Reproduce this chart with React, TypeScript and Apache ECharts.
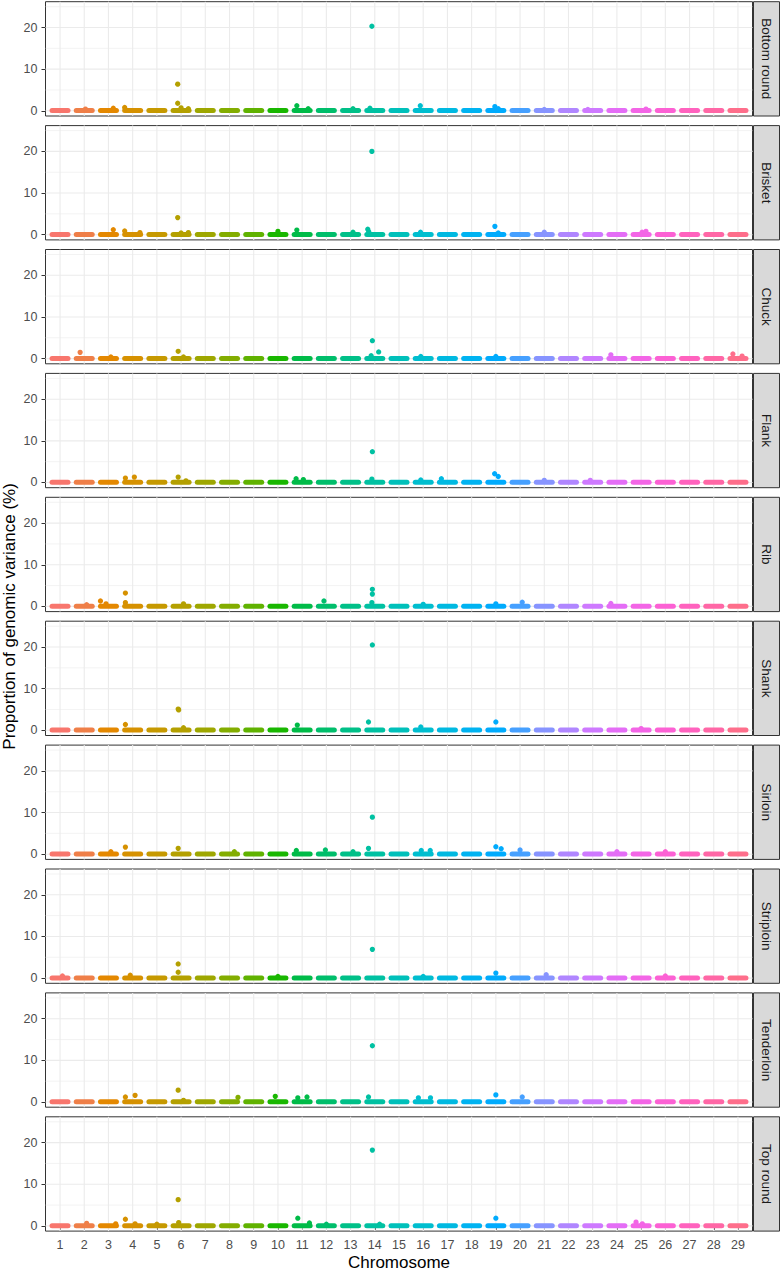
import React, { useEffect, useRef } from "react";
import * as echarts from "echarts";

// ---------------- data ----------------
const TISSUES = [
  "Bottom round", "Brisket", "Chuck", "Flank", "Rib",
  "Shank", "Sirloin", "Striploin", "Tenderloin", "Top round",
];
const CHROMOSOMES = [1, 2, 3, 4, 5, 6, 7, 8, 9, 10, 11, 12, 13, 14, 15, 16, 17, 18, 19, 20, 21, 22, 23, 24, 25, 26, 27, 28, 29];
const Y_TICKS = [0, 10, 20];
const Y_MINOR = [5, 15, 25];
// typical level of the dense band of windows near zero, per chromosome
const BASELINE_LEVEL = [0.05, 0.05, 0.05, 0.05, 0.05, 0.05, 0.05, 0.05, 0.05, 0.05, 0.05, 0.05, 0.05, 0.05, 0.05, 0.05, 0.05, 0.05, 0.05, 0.05, 0.05, 0.05, 0.05, 0.05, 0.05, 0.05, 0.05, 0.05, 0.05];

// points standing above the band: [chromosome, jitter offset, % variance]
const BOTTOM_ROUND = [
  [2, 0.05, 0.4], [3, 0.2, 0.6], [4, -0.33, 0.8], [6, -0.14, 6.4], [6, -0.14, 1.8], [6, 0.0, 0.7], [6, 0.3, 0.5],
  [11, -0.22, 1.2], [11, 0.25, 0.5], [13, 0.1, 0.5], [14, -0.12, 20.3], [14, -0.2, 0.6], [16, -0.12, 1.2],
  [19, -0.04, 1.0], [19, 0.1, 0.5], [21, 0.0, 0.3], [23, -0.2, 0.3], [25, 0.2, 0.4],
];
const BRISKET = [
  [3, 0.2, 1.2], [4, -0.33, 0.9], [4, 0.3, 0.5], [6, -0.14, 4.1], [6, 0.3, 0.5], [6, 0.0, 0.4], [10, 0.0, 0.8],
  [11, -0.22, 1.1], [13, 0.1, 0.6], [14, -0.12, 20.0], [14, -0.29, 1.3], [14, -0.25, 0.7], [16, -0.11, 0.6],
  [19, -0.04, 2.0], [19, 0.1, 0.4], [21, 0.0, 0.6], [25, 0.04, 0.6], [25, 0.2, 0.8],
];
const CHUCK = [
  [2, -0.17, 1.5], [3, 0.1, 0.4], [6, -0.12, 1.75], [6, 0.1, 0.4], [14, -0.1, 4.3], [14, 0.16, 1.6],
  [14, -0.15, 0.7], [16, -0.1, 0.5], [19, 0.0, 0.5], [24, -0.25, 0.9], [29, -0.21, 1.1], [29, 0.17, 0.6],
];
const FLANK = [
  [4, -0.3, 1.05], [4, 0.07, 1.3], [6, -0.12, 1.3], [6, 0.2, 0.4], [11, -0.25, 0.9], [11, 0.05, 0.7],
  [14, -0.1, 7.4], [14, -0.12, 0.8], [16, -0.1, 0.6], [17, -0.25, 0.9], [19, -0.05, 2.1], [19, 0.1, 1.45],
  [21, 0.0, 0.5], [23, -0.1, 0.5],
];
const RIB = [
  [2, 0.1, 0.4], [3, -0.33, 1.3], [3, -0.1, 0.6], [4, -0.3, 3.2], [4, -0.3, 0.9], [6, 0.1, 0.6],
  [12, -0.1, 1.3], [14, -0.1, 4.1], [14, -0.1, 2.95], [14, -0.12, 0.9], [16, 0.0, 0.5], [19, 0.0, 0.6],
  [20, 0.09, 1.0], [24, -0.25, 0.7],
];
const SHANK = [
  [4, -0.3, 1.4], [6, -0.12, 5.1], [6, -0.1, 4.9], [6, 0.1, 0.6], [11, -0.2, 1.25], [14, -0.1, 20.5],
  [14, -0.26, 2.0], [16, -0.1, 0.8], [19, 0.0, 2.0], [25, 0.0, 0.4],
];
const SIRLOIN = [
  [3, 0.1, 0.6], [4, -0.3, 1.7], [6, -0.12, 1.4], [8, 0.2, 0.6], [11, -0.24, 0.9], [12, -0.04, 1.0],
  [13, 0.1, 0.6], [14, -0.1, 8.9], [14, -0.26, 1.4], [16, -0.08, 0.9], [16, 0.29, 0.9], [19, 0.0, 1.8],
  [19, 0.22, 1.3], [20, 0.0, 1.0], [24, 0.0, 0.6], [26, 0.0, 0.6],
];
const STRIPLOIN = [
  [1, 0.1, 0.5], [4, -0.1, 0.7], [6, -0.12, 3.4], [6, -0.12, 1.4], [10, 0.0, 0.4], [14, -0.1, 6.9],
  [16, 0.0, 0.4], [19, 0.0, 1.2], [21, 0.08, 0.8], [26, 0.0, 0.5],
];
const TENDERLOIN = [
  [4, -0.3, 1.2], [4, 0.1, 1.6], [6, -0.12, 2.85], [6, 0.1, 0.4], [8, 0.35, 1.1], [10, -0.11, 1.35],
  [11, -0.18, 1.0], [11, 0.2, 1.2], [14, -0.1, 13.5], [14, -0.26, 1.2], [16, -0.2, 1.0], [16, 0.3, 1.0],
  [19, 0.0, 1.7], [20, 0.09, 1.2],
];
const TOP_ROUND = [
  [2, 0.1, 0.6], [3, 0.3, 0.5], [4, -0.3, 1.6], [4, 0.1, 0.5], [5, 0.0, 0.4], [6, -0.12, 6.3], [6, -0.1, 0.8],
  [11, -0.18, 1.85], [11, 0.3, 0.7], [12, 0.0, 0.4], [14, -0.1, 18.2], [14, 0.2, 0.4], [19, 0.0, 1.85],
  [25, -0.21, 0.9], [25, 0.05, 0.5],
];
const PANEL_POINTS = [BOTTOM_ROUND, BRISKET, CHUCK, FLANK, RIB, SHANK, SIRLOIN, STRIPLOIN, TENDERLOIN, TOP_ROUND];

// ---------------- layout / style ----------------
const W = 782;
const H = 1271;
const PLOT_LEFT = 45.5;
const PLOT_RIGHT = 752.5;
const PANEL_TOP0 = 1.7;
const PANEL_PITCH = 123.9;
const PANEL_H = 114.3;
const STRIP_X = 753.5;
const STRIP_W = 26;
const X_MIN = 0.4;
const X_MAX = 29.6;
const Y_MIN = -1.25;
const Y_MAX = 26.2;
const JITTER = 0.33;
const FONT = "'Liberation Sans', Arial, Helvetica, sans-serif";

// ggplot2 default hue palette (hcl, c = 100, l = 65)
function hcl(h: number, c: number, l: number): string {
  const Xn = 95.047, Yn = 100.0, Zn = 108.883;
  const hr = (h * Math.PI) / 180;
  const U = c * Math.cos(hr);
  const V = c * Math.sin(hr);
  const Y = l > 7.999592 ? Yn * Math.pow((l + 16) / 116, 3) : (Yn * l) / 903.3;
  const t = Xn + Yn + Zn;
  const x = Xn / t, y = Yn / t;
  const uN = (2 * x) / (6 * y - x + 1.5);
  const vN = (4.5 * y) / (6 * y - x + 1.5);
  const u = U / (13 * l) + uN;
  const v = V / (13 * l) + vN;
  const X = (9.0 * Y * u) / (4 * v);
  const Z = -X / 3 - 5 * Y + (3 * Y) / v;
  const g = (a: number) => (a > 0.00304 ? 1.055 * Math.pow(a, 1 / 2.4) - 0.055 : 12.92 * a);
  const R = g((3.240479 * X - 1.53715 * Y - 0.498535 * Z) / Yn);
  const G = g((-0.969256 * X + 1.875992 * Y + 0.041556 * Z) / Yn);
  const B = g((0.055648 * X - 0.204043 * Y + 1.057311 * Z) / Yn);
  const hex = (a: number) => {
    const n = Math.round(Math.max(0, Math.min(1, a)) * 255);
    return n.toString(16).padStart(2, "0");
  };
  return "#" + hex(R) + hex(G) + hex(B);
}
const COLORS = CHROMOSOMES.map((_, i) => hcl(15 + (i * 360) / CHROMOSOMES.length, 100, 65));

function buildOption() {
  const n = TISSUES.length;
  const grids: any[] = [];
  const xAxes: any[] = [];
  const yAxes: any[] = [];
  const series: any[] = [];
  const graphics: any[] = [];

  const gridItems: any[] = [
    ...Y_TICKS.map((v) => [0, v]),
    ...Y_MINOR.map((v) => [1, v]),
    ...CHROMOSOMES.map((c) => [2, c]),
  ];

  for (let k = 0; k < n; k++) {
    const top = PANEL_TOP0 + k * PANEL_PITCH;
    const last = k === n - 1;
    grids.push({
      left: PLOT_LEFT,
      top,
      width: PLOT_RIGHT - PLOT_LEFT,
      height: PANEL_H,
      show: true,
      borderColor: "#333333",
      borderWidth: 1,
      backgroundColor: "transparent",
      containLabel: false,
    });
    xAxes.push({
      type: "value",
      gridIndex: k,
      min: X_MIN,
      max: X_MAX,
      axisLine: { show: false },
      splitLine: { show: false },
      axisTick: {
        show: last,
        customValues: CHROMOSOMES,
        length: 4,
        lineStyle: { color: "#333333", width: 1 },
      },
      axisLabel: {
        show: last,
        customValues: CHROMOSOMES,
        fontSize: 12.5,
        fontFamily: FONT,
        color: "#4D4D4D",
        margin: 7,
      },
    });
    yAxes.push({
      type: "value",
      gridIndex: k,
      min: Y_MIN,
      max: Y_MAX,
      axisLine: { show: false },
      splitLine: { show: false },
      axisTick: {
        show: true,
        customValues: Y_TICKS,
        length: 4,
        lineStyle: { color: "#333333", width: 1 },
      },
      axisLabel: {
        show: true,
        customValues: Y_TICKS,
        fontSize: 12.5,
        fontFamily: FONT,
        color: "#4D4D4D",
        margin: 8,
      },
    });

    // grid lines
    series.push({
      type: "custom",
      xAxisIndex: k,
      yAxisIndex: k,
      z: 1,
      silent: true,
      data: gridItems,
      renderItem: (_p: any, api: any) => {
        const kind = api.value(0);
        const v = api.value(1);
        let a, b;
        if (kind === 2) {
          a = api.coord([v, Y_MIN]);
          b = api.coord([v, Y_MAX]);
        } else {
          a = api.coord([X_MIN, v]);
          b = api.coord([X_MAX, v]);
        }
        return {
          type: "line",
          shape: { x1: a[0], y1: a[1], x2: b[0], y2: b[1] },
          style: { stroke: "#EBEBEB", lineWidth: kind === 1 ? 0.6 : 1.1 },
        };
      },
    });

    // dense band of near-zero windows
    series.push({
      type: "custom",
      xAxisIndex: k,
      yAxisIndex: k,
      z: 2,
      silent: true,
      data: CHROMOSOMES.map((c, i) => [c, BASELINE_LEVEL[i]]),
      renderItem: (_p: any, api: any) => {
        const c = api.value(0);
        const v = api.value(1);
        const a = api.coord([c - JITTER, v]);
        const b = api.coord([c + JITTER, v]);
        return {
          type: "line",
          shape: { x1: a[0], y1: a[1], x2: b[0], y2: b[1] },
          style: { stroke: COLORS[c - 1], lineWidth: 5, lineCap: "round" },
        };
      },
    });

    // individual windows above the band
    series.push({
      type: "scatter",
      xAxisIndex: k,
      yAxisIndex: k,
      z: 3,
      symbol: "circle",
      symbolSize: 5.3,
      data: PANEL_POINTS[k].map((p) => [p[0] + p[1], p[2], p[0]]),
      itemStyle: {
        color: (params: any) => COLORS[params.data[2] - 1],
        opacity: 1,
      },
    });

    // facet strip
    graphics.push({
      type: "rect",
      shape: { x: STRIP_X, y: top, width: STRIP_W, height: PANEL_H },
      style: { fill: "#D9D9D9", stroke: "#333333", lineWidth: 1 },
      silent: true,
    });
    graphics.push({
      type: "text",
      x: STRIP_X + STRIP_W / 2,
      y: top + PANEL_H / 2,
      rotation: -Math.PI / 2,
      silent: true,
      style: {
        text: TISSUES[k],
        fontSize: 13.5,
        fontFamily: FONT,
        fill: "#1A1A1A",
        align: "center",
        verticalAlign: "middle",
      },
    });
  }

  const panelsBottom = PANEL_TOP0 + (n - 1) * PANEL_PITCH + PANEL_H;
  graphics.push({
    type: "text",
    x: 9.5,
    y: (PANEL_TOP0 + panelsBottom) / 2,
    rotation: Math.PI / 2,
    silent: true,
    style: {
      text: "Proportion of genomic variance (%)",
      fontSize: 17,
      fontFamily: FONT,
      fill: "#000000",
      align: "center",
      verticalAlign: "middle",
    },
  });
  graphics.push({
    type: "text",
    x: (PLOT_LEFT + PLOT_RIGHT) / 2,
    y: 1262,
    silent: true,
    style: {
      text: "Chromosome",
      fontSize: 17,
      fontFamily: FONT,
      fill: "#000000",
      align: "center",
      verticalAlign: "middle",
    },
  });

  return {
    animation: false,
    backgroundColor: "#FFFFFF",
    grid: grids,
    xAxis: xAxes,
    yAxis: yAxes,
    series,
    graphic: graphics,
  };
}

export default function App() {
  const ref = useRef<HTMLDivElement>(null);
  useEffect(() => {
    document.body.style.margin = "0";
    if (!ref.current) return;
    const chart = echarts.init(ref.current, undefined, { renderer: "svg" });
    chart.setOption(buildOption() as any);
    return () => chart.dispose();
  }, []);
  return <div ref={ref} style={{ width: W, height: H }} />;
}
